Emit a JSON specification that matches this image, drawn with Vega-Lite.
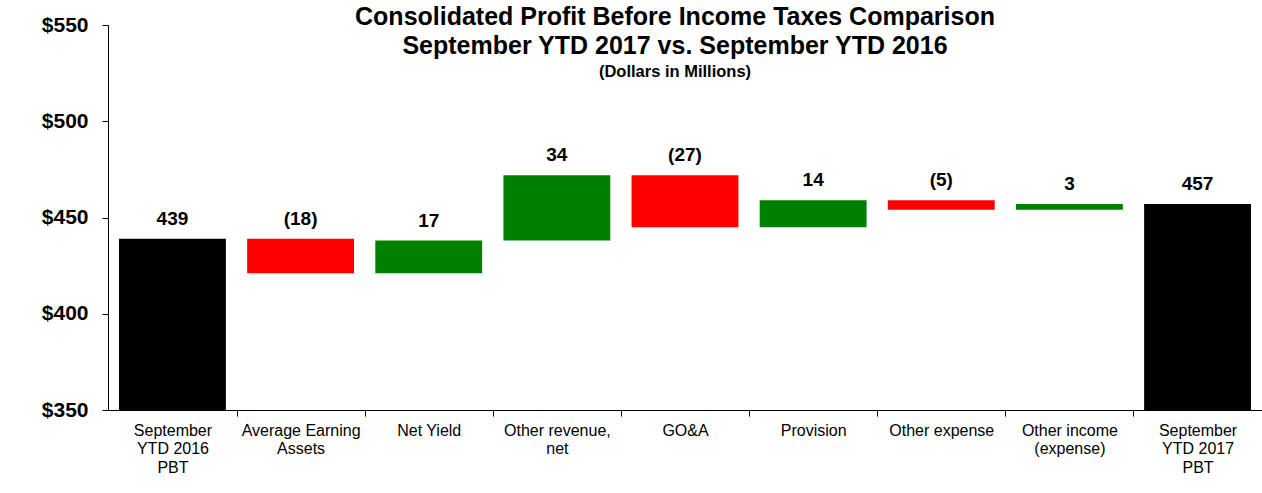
{
  "$schema": "https://vega.github.io/schema/vega-lite/v6.json",
  "width": 1154,
  "height": 385,
  "autosize": "none",
  "padding": {"left": 108, "top": 25, "right": 0, "bottom": 83},
  "background": "white",
  "config": {"view": {"stroke": null}, "font": "Liberation Sans"},
  "title": {
    "text": ["Consolidated Profit Before Income Taxes Comparison", "September YTD 2017 vs. September YTD 2016"],
    "subtitle": "(Dollars in Millions)",
    "font": "Liberation Sans",
    "fontSize": 25,
    "fontWeight": "bold",
    "color": "black",
    "lineHeight": 29,
    "subtitleFont": "Liberation Sans",
    "subtitleFontSize": 16.5,
    "subtitleFontWeight": "bold",
    "subtitleColor": "black",
    "subtitlePadding": 5,
    "anchor": "middle",
    "frame": "group",
    "dx": -10,
    "offset": -66
  },
  "data": {
    "values": [
      {"step": "September|YTD 2016|PBT", "lo": 0, "hi": 439, "kind": "total", "label": "439"},
      {"step": "Average Earning|Assets", "lo": 421, "hi": 439, "kind": "decrease", "label": "(18)"},
      {"step": "Net Yield", "lo": 421, "hi": 438, "kind": "increase", "label": "17"},
      {"step": "Other revenue,|net", "lo": 438, "hi": 472, "kind": "increase", "label": "34"},
      {"step": "GO&A", "lo": 445, "hi": 472, "kind": "decrease", "label": "(27)"},
      {"step": "Provision", "lo": 445, "hi": 459, "kind": "increase", "label": "14"},
      {"step": "Other expense", "lo": 454, "hi": 459, "kind": "decrease", "label": "(5)"},
      {"step": "Other income|(expense)", "lo": 454, "hi": 457, "kind": "increase", "label": "3"},
      {"step": "September|YTD 2017|PBT", "lo": 0, "hi": 457, "kind": "total", "label": "457"}
    ]
  },
  "encoding": {
    "x": {
      "field": "step",
      "type": "nominal",
      "sort": null,
      "scale": {"paddingInner": 0.166, "paddingOuter": 0.086},
      "axis": {
        "title": null,
        "labelAngle": 0,
        "labelFont": "Liberation Sans",
        "labelFontSize": 16,
        "labelColor": "black",
        "labelPadding": 6,
        "labelLineHeight": 18.5,
        "labelBaseline": "top",
        "labelLimit": 0,
        "labelExpr": "split(datum.value, '|')",
        "domainColor": "black",
        "domainWidth": 1,
        "tickColor": "black",
        "tickSize": 6,
        "tickOffset": 64.07,
        "labelOffset": -64.07
      }
    }
  },
  "layer": [
    {
      "mark": {"type": "bar", "clip": true},
      "encoding": {
        "y": {
          "field": "lo",
          "type": "quantitative",
          "scale": {"domain": [350, 550], "nice": false, "zero": false},
          "axis": {
            "title": null,
            "values": [350, 400, 450, 500, 550],
            "format": "$.0f",
            "grid": false,
            "labelFont": "Liberation Sans",
            "labelFontSize": 21,
            "labelFontWeight": "bold",
            "labelColor": "black",
            "labelPadding": 14,
            "domainColor": "black",
            "tickColor": "black",
            "tickSize": 6
          }
        },
        "y2": {"field": "hi"},
        "color": {
          "field": "kind",
          "type": "nominal",
          "scale": {"domain": ["total", "increase", "decrease"], "range": ["#000000", "#008000", "#FF0000"]},
          "legend": null
        }
      }
    },
    {
      "mark": {"type": "text", "dy": -14, "baseline": "alphabetic", "font": "Liberation Sans", "fontSize": 19, "fontWeight": "bold", "color": "black"},
      "encoding": {
        "y": {"field": "hi", "type": "quantitative"},
        "text": {"field": "label"}
      }
    }
  ]
}
